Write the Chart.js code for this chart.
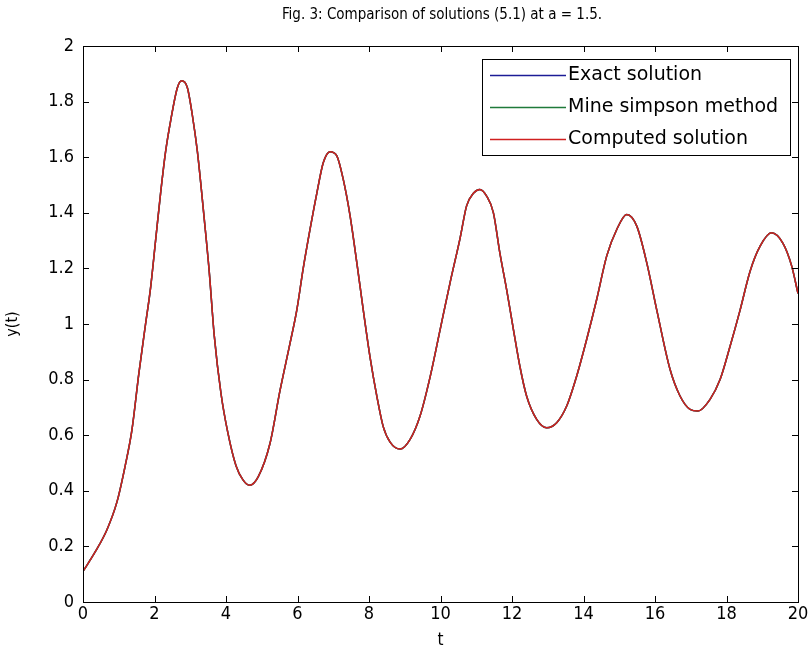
<!DOCTYPE html>
<html>
<head>
<meta charset="utf-8">
<script src="https://cdn.jsdelivr.net/npm/chart.js@4.4.0/dist/chart.umd.min.js"></script>
<style>
    html, body { margin: 0; padding: 0; background: #fff; }
</style>
</head>
<body>
<canvas id="myChart" width="812" height="659"></canvas>
<script>
// DATA
const titleText = 'Fig. 3: Comparison of solutions (5.1) at a = 1.5.';
const seriesNames = ['Exact solution', 'Mine simpson method', 'Computed solution'];
const seriesColors = ['#1c1c96', '#1f7a3a', '#d02020'];

const tValues = [
    0, 0.34, 0.67, 0.95, 1.18, 1.37, 1.56, 1.75, 1.89, 2.03, 2.17, 2.31, 2.45, 2.64, 2.76, 2.92,
    3.06, 3.2, 3.39, 3.53, 3.67, 3.86, 4.05, 4.28, 4.47, 4.66, 4.9, 5.23, 5.51, 5.79, 5.98, 6.16,
    6.35, 6.54, 6.72, 6.91, 7.1, 7.28, 7.47, 7.66, 7.84, 8.03, 8.22, 8.4, 8.59, 8.87, 9.15, 9.43,
    9.71, 9.99, 10.27, 10.55, 10.73, 10.92, 11.1, 11.29, 11.48, 11.66, 11.85, 12.04, 12.22, 12.41,
    12.69, 12.97, 13.25, 13.53, 13.81, 14.09, 14.37, 14.65, 14.93, 15.21, 15.49, 15.77, 16.05,
    16.42, 16.7, 16.98, 17.2, 17.54, 17.82, 18.1, 18.38, 18.66, 18.94, 19.26, 19.58, 19.82, 20
];
const exactValues = [
    0.11, 0.18, 0.26, 0.36, 0.49, 0.62, 0.82, 1.0, 1.13, 1.30, 1.47, 1.62, 1.73, 1.85, 1.875, 1.85,
    1.75, 1.62, 1.38, 1.19, 0.96, 0.75, 0.61, 0.49, 0.44, 0.42, 0.45, 0.57, 0.76, 0.93, 1.05, 1.20,
    1.34, 1.47, 1.58, 1.62, 1.605, 1.52, 1.39, 1.22, 1.05, 0.88, 0.74, 0.63, 0.575, 0.55, 0.585, 0.67,
    0.81, 0.98, 1.15, 1.31, 1.425, 1.47, 1.484, 1.46, 1.40, 1.256, 1.124, 0.98, 0.848, 0.74,
    0.657, 0.627, 0.645, 0.705, 0.813, 0.945, 1.089, 1.245, 1.34, 1.394, 1.352, 1.22, 1.05,
    0.837, 0.741, 0.693, 0.687, 0.729, 0.80, 0.92, 1.05, 1.19, 1.28, 1.328, 1.29, 1.21, 1.11
];
// the three solutions lie on top of each other in the figure
const simpsonValues = exactValues.slice();
const computedValues = exactValues.slice();

const xTicks = [0, 2, 4, 6, 8, 10, 12, 14, 16, 18, 20];
const yTicks = [0, 0.2, 0.4, 0.6, 0.8, 1, 1.2, 1.4, 1.6, 1.8, 2];

const narrowFont = "'Liberation Sans Narrow', 'DejaVu Sans Condensed', 'Liberation Sans', sans-serif";

// FUNCTIONS
function toPoints(xs, ys) {
    return xs.map((x, i) => ({ x: x, y: ys[i] }));
}

// frame, inward ticks, title and legend like the matlab figure
const matlabLook = {
    id: 'matlabLook',
    afterDraw(chart) {
        const ctx = chart.ctx;
        const a = chart.chartArea;
        const xs = chart.scales.x;
        const ys = chart.scales.y;
        ctx.save();
        ctx.strokeStyle = '#000';
        ctx.lineWidth = 1;
        ctx.strokeRect(Math.round(a.left) + 0.5, Math.round(a.top) + 0.5,
            Math.round(a.right - a.left), Math.round(a.bottom - a.top));
        ctx.beginPath();
        xTicks.forEach(v => {
            const px = Math.round(xs.getPixelForValue(v)) + 0.5;
            ctx.moveTo(px, a.bottom); ctx.lineTo(px, a.bottom - 6);
            ctx.moveTo(px, a.top); ctx.lineTo(px, a.top + 6);
        });
        yTicks.forEach(v => {
            const py = Math.round(ys.getPixelForValue(v)) + 0.5;
            ctx.moveTo(a.left, py); ctx.lineTo(a.left + 6, py);
            ctx.moveTo(a.right, py); ctx.lineTo(a.right - 6, py);
        });
        ctx.stroke();

        // title
        ctx.fillStyle = '#000';
        ctx.font = '15px ' + narrowFont;
        ctx.textAlign = 'center';
        ctx.textBaseline = 'middle';
        ctx.fillText(titleText, 442, 15);

        // legend
        const lx = 482, ly = 59, lw = 308, lh = 96;
        ctx.fillStyle = '#fff';
        ctx.fillRect(lx, ly, lw, lh);
        ctx.strokeStyle = '#000';
        ctx.strokeRect(lx + 0.5, ly + 0.5, lw, lh);
        ctx.font = "19px 'DejaVu Sans', sans-serif";
        ctx.textAlign = 'left';
        const rows = [75, 107, 139];
        seriesNames.forEach((name, i) => {
            ctx.strokeStyle = seriesColors[i];
            ctx.lineWidth = 1.3;
            ctx.beginPath();
            ctx.moveTo(490, rows[i] + 0.5);
            ctx.lineTo(566, rows[i] + 0.5);
            ctx.stroke();
            ctx.fillStyle = '#000';
            ctx.fillText(name, 568, rows[i]);
        });
        ctx.restore();
    }
};

// CHART CREATION
const ctx = document.getElementById('myChart');
const allValues = [exactValues, simpsonValues, computedValues];

new Chart(ctx, {
    type: 'line',
    data: {
        datasets: seriesNames.map((name, i) => ({
            label: name,
            data: toPoints(tValues, allValues[i]),
            borderColor: seriesColors[i],
            borderWidth: 1.5,
            pointRadius: 0,
            cubicInterpolationMode: 'monotone',
            fill: false,
            order: 3 - i   // computed solution drawn on top
        }))
    },
    options: {
        responsive: false,
        animation: false,
        devicePixelRatio: 1,
        layout: { padding: { top: 46, right: 14, left: 0, bottom: 0 } },
        plugins: {
            legend: { display: false },
            tooltip: { enabled: false },
            title: { display: false }
        },
        scales: {
            x: {
                type: 'linear',
                min: 0,
                max: 20,
                afterBuildTicks: scale => { scale.ticks = xTicks.map(v => ({ value: v })); },
                afterFit: scale => { scale.height = 57; },
                grid: { display: false, drawTicks: false },
                border: { display: false },
                ticks: {
                    padding: 2,
                    color: '#000',
                    maxRotation: 0,
                    autoSkip: false,
                    font: { family: narrowFont, size: 18 }
                },
                title: {
                    display: true,
                    text: 't',
                    color: '#000',
                    padding: { top: 0, bottom: 8 },
                    font: { family: narrowFont, size: 17 }
                }
            },
            y: {
                type: 'linear',
                min: 0,
                max: 2,
                afterBuildTicks: scale => { scale.ticks = yTicks.map(v => ({ value: v })); },
                afterFit: scale => { scale.width = 83; },
                grid: { display: false, drawTicks: false },
                border: { display: false },
                ticks: {
                    padding: 9,
                    color: '#000',
                    autoSkip: false,
                    font: { family: narrowFont, size: 18 },
                    callback: value => String(+value.toFixed(1))
                },
                title: {
                    display: true,
                    text: 'y(t)',
                    color: '#000',
                    padding: { top: 3, bottom: 0 },
                    font: { family: narrowFont, size: 16 }
                }
            }
        }
    },
    plugins: [matlabLook]
});
</script>
</body>
</html>
